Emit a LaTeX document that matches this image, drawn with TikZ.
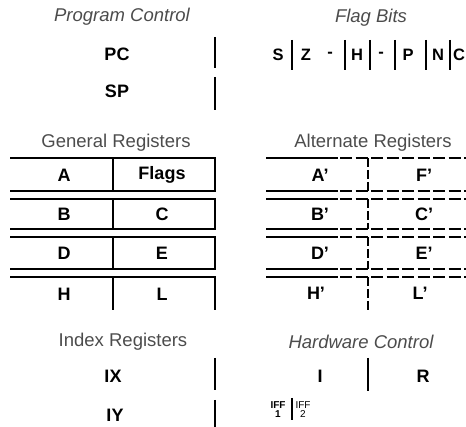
\documentclass[tikz,border=0pt]{standalone}
\usepackage{fontspec}
\setmainfont{Liberation Sans}
\begin{document}
\begin{tikzpicture}[x=1pt,y=-1pt,
  ttl/.style={font=\fontsize{18.5}{18.5}\selectfont, text=black!70, inner sep=0},
  ttli/.style={ttl, font=\fontsize{18.5}{18.5}\selectfont\itshape},
  lbl/.style={font=\fontsize{18}{18}\selectfont\bfseries, inner sep=0},
  flg/.style={font=\fontsize{16.5}{16.5}\selectfont\bfseries, inner sep=0},
  tiny/.style={font=\fontsize{10}{9}\selectfont, inner sep=0, align=center},
  bar/.style={line width=2pt},
  tbl/.style={line width=1.6pt},
  alt/.style={line width=1.6pt, dash pattern=on 12pt off 3.5pt},
  altv/.style={line width=1.6pt, dash pattern=on 9pt off 3pt}]
\useasboundingbox (0,0) rectangle (466,427);

% titles
\node[ttli] (tpc) at (122,17) {Program Control};
\node[ttli] (tfb) at (371,18) {Flag Bits};
\node[ttl]  (tgr) at (116,143) {General Registers};
\node[ttl]  (tar) at (373,143) {Alternate Registers};
\node[ttl]  (tir) at (123,342) {Index Registers};
\node[ttli] (thc) at (361,342) {Hardware Control};

% program control
\node[lbl] (pc) at (117,54) {PC};
\node[lbl] (sp) at (117,91) {SP};
\draw[bar] (215,37) -- (215,68);
\draw[bar] (215,77) -- (215,110);

% flag bits
\node[flg] (fs) at (278,55) {S};
\node[flg] (fz) at (306,55) {Z};
\node[flg] (fx1) at (330,55) {-};
\node[flg] (fh) at (357,55) {H};
\node[flg] (fx2) at (381,55) {-};
\node[flg] (fp) at (408,55) {P};
\node[flg] (fn) at (438,55) {N};
\node[flg] (fc) at (459,55) {C};
\foreach \x in {292,345,370,395,426,450} \draw[line width=1.5pt] (\x,40) -- (\x,70);

% general registers
\foreach \t/\b in {158/191,199/229,237/269} {
  \draw[tbl] (10,\t) -- (215,\t) -- (215,\b) -- (10,\b);
  \draw[tbl] (113,\t) -- (113,\b);
}
\draw[tbl] (10,277) -- (215,277) -- (215,310);
\draw[tbl] (113,277) -- (113,310);
\node[lbl] (ga) at (64,175) {A};
\node[lbl] (gf) at (162,175) {Flags};
\node[lbl] (gb) at (64,214) {B};
\node[lbl] (gc) at (162,214) {C};
\node[lbl] (gd) at (64,253) {D};
\node[lbl] (ge) at (162,253) {E};
\node[lbl] (gh) at (64,294) {H};
\node[lbl] (gl) at (162,294) {L};

% alternate registers
\foreach \y in {158,191,199,229,237,269,277} {
  \draw[tbl] (266,\y) -- (338,\y);
  \draw[alt] (340,\y) -- (466,\y);
}
\foreach \t/\b in {158/191,199/229,237/269,277/310} \draw[altv] (368,\t) -- (368,\b);
\node[lbl] (aa) at (320,175) {A'};
\node[lbl] (af) at (424,175) {F'};
\node[lbl] (ab) at (320,214) {B'};
\node[lbl] (ac) at (424,214) {C'};
\node[lbl] (ad) at (320,253) {D'};
\node[lbl] (ae) at (424,253) {E'};
\node[lbl] (ah) at (316,293) {H'};
\node[lbl] (al) at (420,293) {L'};

% index registers
\node[lbl] (ix) at (113,376) {IX};
\node[lbl] (iy) at (115,415) {IY};
\draw[bar] (215,358) -- (215,390);
\draw[bar] (215,400) -- (215,427);

% hardware control
\node[lbl] (hi) at (320,376) {I};
\node[lbl] (hr) at (423,376) {R};
\draw[bar] (368,358) -- (368,391);
\node[tiny, font=\fontsize{10}{9}\selectfont\bfseries] (iff1) at (278,410) {IFF\\1};
\node[tiny] (iff2) at (303,410) {IFF\\2};
\draw[line width=1.2pt] (292,398) -- (292,420);
\end{tikzpicture}
\end{document}
